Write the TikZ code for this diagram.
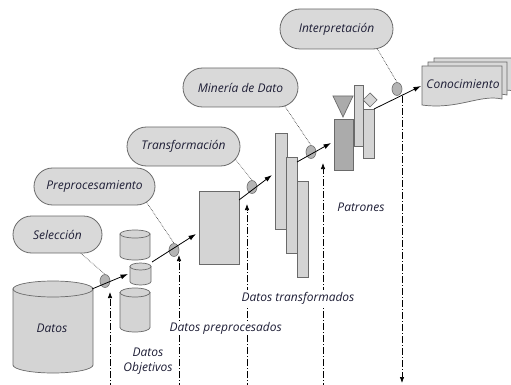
\documentclass[tikz,border=0pt]{standalone}
\usepackage{fontspec}
\setmainfont{Open Sans}
\usetikzlibrary{arrows.meta,shapes.misc,shapes.geometric}
\definecolor{txtc}{HTML}{1E1E36}
\definecolor{edgec}{HTML}{6A6A6A}
\definecolor{pillc}{HTML}{D9D9D9}
\definecolor{blobc}{HTML}{B4B4B4}
\definecolor{boxc}{HTML}{D4D4D4}
\definecolor{darkc}{HTML}{ABABAB}
\begin{document}
\begin{tikzpicture}[x=1pt,y=-1pt,
  txt/.style={font=\itshape\fontsize{12}{14.5}\selectfont, text=txtc},
  pill/.style={rounded rectangle, draw=edgec, fill=pillc, line width=0.8pt, txt, inner sep=0pt},
  blob/.style={ellipse, draw=edgec, fill=blobc, line width=0.6pt, minimum width=10pt, minimum height=13pt, inner sep=0pt},
  dotc/.style={densely dotted, line width=0.6pt, draw=black!85},
  flow/.style={-{Latex[length=7.5pt,width=5pt]}, line width=0.8pt, draw=black},
  ddot/.style={dash pattern=on 7pt off 2pt on 1pt off 2pt, line width=0.7pt, draw=black},
  dtip/.style={-{Latex[length=6pt,width=4.5pt]}},
  box/.style={draw=edgec, fill=boxc, line width=0.7pt},
  dbox/.style={draw=edgec, fill=darkc, line width=0.7pt},
  page/.style={draw=edgec, fill=pillc, line width=0.7pt},
  lbl/.style={txt, inner sep=0pt},
  wlbl/.style={txt, inner sep=1.5pt, fill=white},
]
\useasboundingbox (0,0) rectangle (511,385);
\fill[white] (0,0) rectangle (511,385);

% ---------- vertical dash-dot lines ----------
\coordinate (v1b) at (110,390); \coordinate (v1t) at (110,292);
\coordinate (v2b) at (179,390); \coordinate (v2t) at (179,255);
\coordinate (v3b) at (247,390); \coordinate (v3t) at (247,204);
\coordinate (v4b) at (323,390); \coordinate (v4t) at (323,163);
\coordinate (v5t) at (402,96);  \coordinate (v5b) at (402,383);
\draw[ddot,dtip] (v1b) -- (v1t);
\draw[ddot,dtip] (v2b) -- (v2t);
\draw[ddot,dtip] (v3b) -- (v3t);
\draw[ddot,dtip] (v4b) -- (v4t);
\draw[ddot,dtip] (v5t) -- (v5b);

% ---------- big cylinder: Datos ----------
\filldraw[box] (13,289) -- (13,365) arc[start angle=180,end angle=0,x radius=40,y radius=8] -- (93,289) -- cycle;
\filldraw[box] (53,289) ellipse[x radius=40,y radius=8];
\node[lbl] (datos) at (52,328) {Datos};

% ---------- small cylinders ----------
\filldraw[box] (120,234) -- (120,256) arc[start angle=180,end angle=0,x radius=15,y radius=4] -- (150,234) -- cycle;
\filldraw[box] (135,234) ellipse[x radius=15,y radius=4];
\filldraw[box] (130,266.5) -- (130,281.5) arc[start angle=180,end angle=0,x radius=10.5,y radius=3.5] -- (151,266.5) -- cycle;
\filldraw[box] (140.5,266.5) ellipse[x radius=10.5,y radius=3.5];
\filldraw[box] (120,292.5) -- (120,327.5) arc[start angle=180,end angle=0,x radius=15,y radius=4.5] -- (150,292.5) -- cycle;
\filldraw[box] (135,292.5) ellipse[x radius=15,y radius=4.5];

% ---------- preprocessed rectangle ----------
\filldraw[box] (199,191) rectangle (239,264);

% ---------- transformed bars ----------
\filldraw[box] (275,133) rectangle (287,229);
\filldraw[box] (286,157) rectangle (297,253);
\filldraw[box] (297,181) rectangle (308,277);

% ---------- patterns ----------
\filldraw[dbox] (333,96) -- (353,96) -- (343,117) -- cycle;
\filldraw[dbox] (334,119) rectangle (353,170);
\filldraw[box] (354,85) rectangle (363,146);
\filldraw[box] (363,109) rectangle (374,158);
\filldraw[box] (370,93) -- (377,100) -- (370,107) -- (363,100) -- cycle;

% ---------- knowledge pages ----------
\filldraw[page] (434,58) -- (514,58) -- (514,91) .. controls (492,86) and (470,102) .. (434,97) -- cycle;
\filldraw[page] (428,62) -- (507,62) -- (507,95) .. controls (485,90) and (463,106) .. (428,101) -- cycle;
\filldraw[page] (422,66) -- (502,66) -- (502,99) .. controls (480,94) and (458,110) .. (422,105) -- cycle;
\node[lbl] (con) at (463,84) {Conocimiento};

% ---------- labels ----------
\node[lbl, align=center] (obj) at (148,361) {Datos\\Objetivos};
\node[wlbl, anchor=west] (pre-l) at (168,328) {Datos preprocesados};
\node[wlbl, anchor=west] (tra-l) at (240,298) {Datos transformados};
\node[lbl] (pat) at (361,207) {Patrones};

% ---------- step pills ----------
\node[pill, minimum width=89pt, minimum height=37pt] (sel) at (57.5,234.5) {Selección};
\node[pill, minimum width=121pt, minimum height=37pt] (pre) at (94.5,186.5) {Preprocesamiento};
\node[pill, minimum width=113pt, minimum height=39pt] (tra) at (183.5,146.5) {Transformación};
\node[pill, minimum width=115pt, minimum height=39pt] (min) at (240.5,87.5) {Minería de Dato};
\node[pill, minimum width=113pt, minimum height=40pt] (int) at (336.5,29) {Interpretación};

% ---------- blobs ----------
\node[blob] (e1) at (105,281) {};
\node[blob] (e2) at (174,250) {};
\node[blob] (e3) at (252,187) {};
\node[blob] (e4) at (311,152) {};
\node[blob] (e5) at (397,89) {};

% ---------- dotted links ----------
\draw[dotc] (sel.-39) -- (e1.north);
\draw[dotc] (pre.-17) -- (e2.north);
\draw[dotc] (tra.-14) -- (e3.north);
\draw[dotc] (min.-23) -- (e4.north);
\draw[dotc] (int.-26) -- (e5.north);

% ---------- flow arrows ----------
\coordinate (a1s) at (92,289);  \coordinate (a1e) at (128,274);
\coordinate (a2s) at (152,262); \coordinate (a2e) at (196,234);
\coordinate (a3s) at (239,200); \coordinate (a3e) at (272,175);
\coordinate (a4s) at (297,162); \coordinate (a4e) at (331,143);
\coordinate (a5s) at (374,109); \coordinate (a5e) at (421,86);
\draw[flow] (a1s) -- (a1e);
\draw[flow] (a2s) -- (a2e);
\draw[flow] (a3s) -- (a3e);
\draw[flow] (a4s) -- (a4e);
\draw[flow] (a5s) -- (a5e);
\end{tikzpicture}
\end{document}
